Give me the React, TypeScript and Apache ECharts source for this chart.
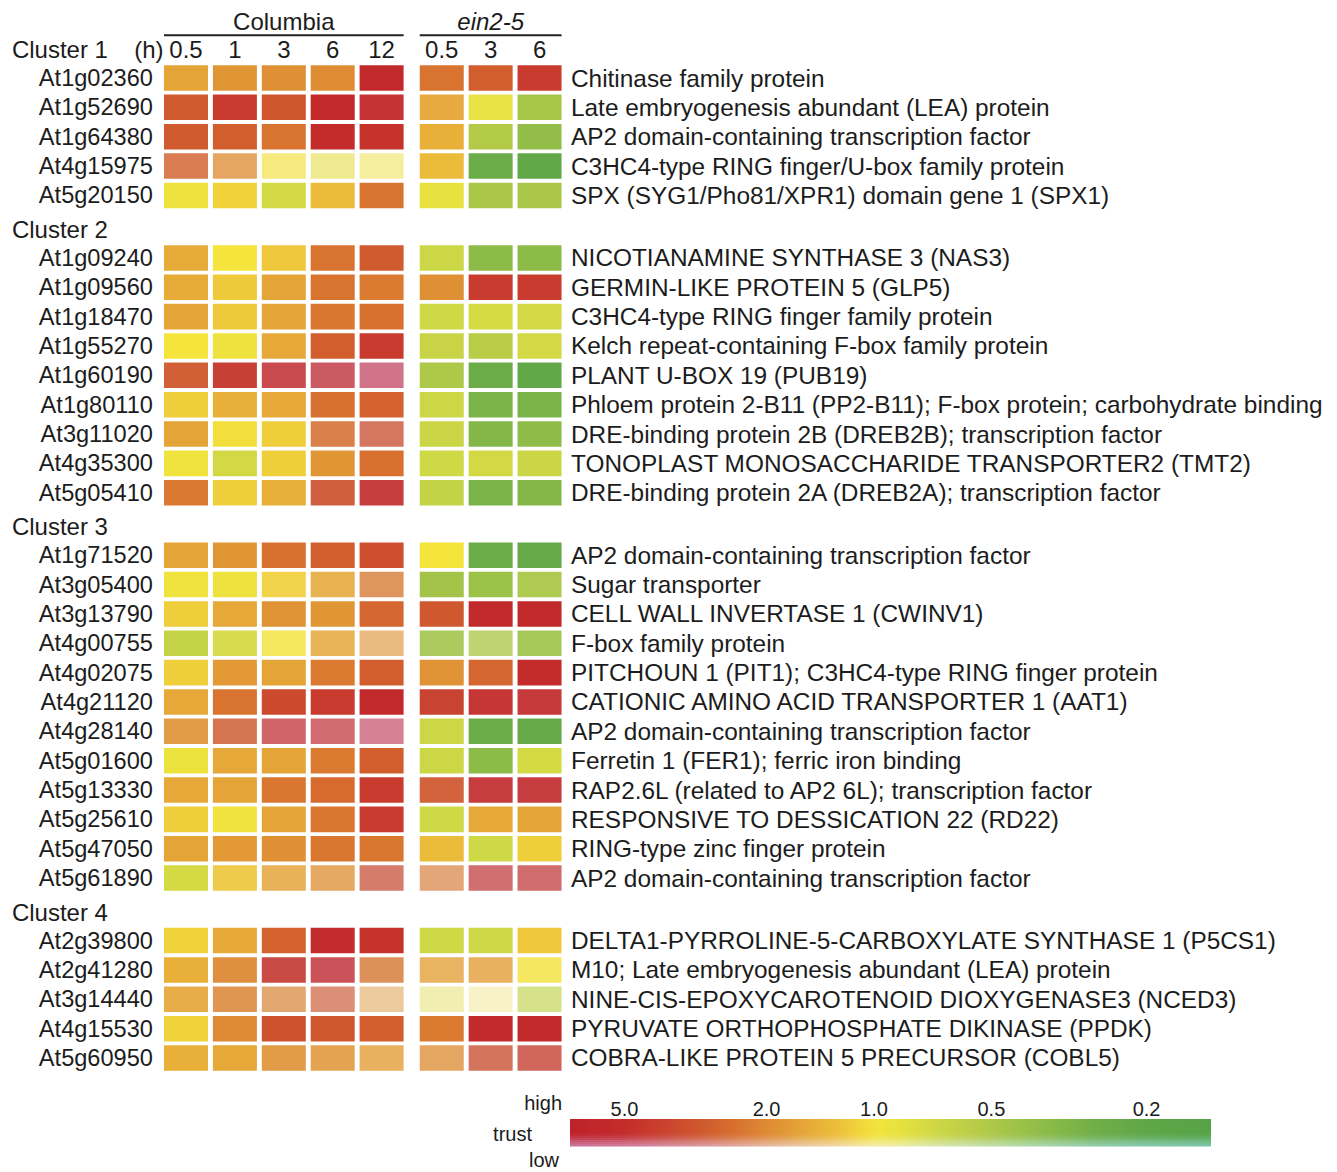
import React, { useEffect, useRef } from "react";
import * as echarts from "echarts";

// ---------------- DATA ----------------
const clusterNames = ["Cluster 1", "Cluster 2", "Cluster 3", "Cluster 4"];
const clusterSizes = [5, 9, 12, 5];

const geneIds = [
  "At1g02360", "At1g52690", "At1g64380", "At4g15975", "At5g20150",
  "At1g09240", "At1g09560", "At1g18470", "At1g55270", "At1g60190", "At1g80110", "At3g11020", "At4g35300", "At5g05410",
  "At1g71520", "At3g05400", "At3g13790", "At4g00755", "At4g02075", "At4g21120", "At4g28140", "At5g01600", "At5g13330", "At5g25610", "At5g47050", "At5g61890",
  "At2g39800", "At2g41280", "At3g14440", "At4g15530", "At5g60950",
];

const descriptions = [
  "Chitinase family protein",
  "Late embryogenesis abundant (LEA) protein",
  "AP2 domain-containing transcription factor",
  "C3HC4-type RING finger/U-box family protein",
  "SPX (SYG1/Pho81/XPR1) domain gene 1 (SPX1)",
  "NICOTIANAMINE SYNTHASE 3 (NAS3)",
  "GERMIN-LIKE PROTEIN 5 (GLP5)",
  "C3HC4-type RING finger family protein",
  "Kelch repeat-containing F-box family protein",
  "PLANT U-BOX 19 (PUB19)",
  "Phloem protein 2-B11 (PP2-B11); F-box protein; carbohydrate binding",
  "DRE-binding protein 2B (DREB2B); transcription factor",
  "TONOPLAST MONOSACCHARIDE TRANSPORTER2 (TMT2)",
  "DRE-binding protein 2A (DREB2A); transcription factor",
  "AP2 domain-containing transcription factor",
  "Sugar transporter",
  "CELL WALL INVERTASE 1 (CWINV1)",
  "F-box family protein",
  "PITCHOUN 1 (PIT1); C3HC4-type RING finger protein",
  "CATIONIC AMINO ACID TRANSPORTER 1 (AAT1)",
  "AP2 domain-containing transcription factor",
  "Ferretin 1 (FER1); ferric iron binding",
  "RAP2.6L (related to AP2 6L); transcription factor",
  "RESPONSIVE TO DESSICATION 22 (RD22)",
  "RING-type zinc finger protein",
  "AP2 domain-containing transcription factor",
  "DELTA1-PYRROLINE-5-CARBOXYLATE SYNTHASE 1 (P5CS1)",
  "M10; Late embryogenesis abundant (LEA) protein",
  "NINE-CIS-EPOXYCAROTENOID DIOXYGENASE3 (NCED3)",
  "PYRUVATE ORTHOPHOSPHATE DIKINASE (PPDK)",
  "COBRA-LIKE PROTEIN 5 PRECURSOR (COBL5)",
];

const groupNames = ["Columbia", "ein2-5"];
const timeUnit = "(h)";
const timeLabelsColumbia = ["0.5", "1", "3", "6", "12"];
const timeLabelsEin = ["0.5", "3", "6"];

// fold change (ratio) per gene, Columbia 0.5/1/3/6/12 h
const columbiaFold = [
  [1.6, 1.8, 1.9, 1.95, 5.5],
  [3.0, 4.2, 3.2, 5.5, 5.0],
  [3.0, 2.9, 2.4, 5.0, 4.6],
  [2.6, 1.8, 1.0, 0.9, 1.0],
  [0.92, 1.12, 0.72, 1.3, 2.4],
  [1.5, 1.0, 1.2, 2.4, 3.0],
  [1.5, 1.18, 1.6, 2.4, 2.25],
  [1.6, 1.18, 1.6, 2.35, 2.45],
  [1.0, 0.92, 1.55, 2.9, 4.2],
  [3.0, 4.3, 4.5, 4.5, 4.5],
  [1.15, 1.45, 1.55, 2.45, 2.8],
  [1.6, 1.03, 1.15, 2.4, 3.0],
  [0.95, 0.72, 1.15, 1.8, 2.45],
  [2.3, 1.15, 1.45, 3.2, 4.8],
  [1.6, 1.8, 2.45, 2.9, 3.4],
  [0.95, 0.93, 1.12, 1.5, 2.1],
  [1.15, 1.55, 1.85, 1.8, 2.7],
  [0.63, 0.74, 1.0, 1.5, 1.6],
  [1.15, 1.75, 1.6, 2.25, 2.9],
  [1.55, 2.4, 3.6, 4.2, 5.5],
  [1.8, 2.8, 4.0, 4.0, 4.0],
  [0.9, 1.55, 1.6, 2.25, 2.9],
  [1.55, 1.6, 2.35, 2.6, 4.2],
  [1.15, 0.95, 1.6, 2.35, 4.2],
  [1.6, 1.75, 1.9, 2.35, 2.35],
  [0.73, 1.2, 1.55, 1.75, 3.0],
  [1.12, 1.55, 2.8, 5.2, 4.6],
  [1.45, 2.0, 4.2, 4.5, 2.2],
  [1.55, 2.0, 1.9, 2.6, 1.5],
  [1.12, 2.0, 3.3, 3.1, 2.9],
  [1.45, 1.55, 1.8, 1.75, 1.6],
];

// trust (1 = high, 0 = low), Columbia
const columbiaTrust = [
  [1, 1, 1, 1, 1],
  [1, 1, 1, 1, 0.95],
  [1, 1, 1, 1, 1],
  [0.8, 0.75, 0.6, 0.5, 0.4],
  [1, 1, 1, 1, 1],
  [1, 1, 1, 1, 1],
  [1, 1, 1, 1, 1],
  [1, 1, 1, 1, 1],
  [1, 1, 1, 1, 1],
  [0.95, 0.95, 0.82, 0.7, 0.48],
  [1, 1, 1, 1, 1],
  [1, 1, 1, 0.85, 0.72],
  [1, 1, 1, 1, 1],
  [1, 1, 1, 0.9, 0.9],
  [1, 1, 1, 1, 1],
  [1, 1, 0.9, 0.86, 0.75],
  [1, 1, 1, 1, 1],
  [1, 0.93, 0.8, 0.82, 0.57],
  [1, 1, 1, 1, 1],
  [1, 1, 1, 1, 1],
  [0.9, 0.8, 0.67, 0.62, 0.43],
  [1, 1, 1, 1, 1],
  [1, 1, 1, 1, 1],
  [1, 1, 1, 1, 1],
  [1, 1, 1, 1, 1],
  [1, 0.9, 0.81, 0.75, 0.66],
  [1, 1, 1, 1, 1],
  [1, 0.93, 0.87, 0.76, 0.77],
  [0.9, 0.84, 0.65, 0.59, 0.4],
  [1, 1, 1, 1, 1],
  [1, 1, 0.9, 0.85, 0.76],
];

// fold change, ein2-5 0.5/3/6 h
const einFold = [
  [2.4, 2.9, 4.2],
  [1.55, 0.87, 0.47],
  [1.45, 0.52, 0.38],
  [1.3, 0.25, 0.21],
  [0.88, 0.48, 0.48],
  [0.68, 0.36, 0.36],
  [1.9, 4.2, 4.2],
  [0.7, 0.75, 0.72],
  [0.65, 0.55, 0.72],
  [0.5, 0.25, 0.21],
  [0.68, 0.3, 0.3],
  [0.67, 0.33, 0.37],
  [0.7, 0.72, 0.67],
  [0.62, 0.3, 0.33],
  [1.0, 0.25, 0.22],
  [0.45, 0.42, 0.5],
  [3.1, 5.5, 5.5],
  [0.47, 0.55, 0.45],
  [1.85, 2.7, 5.0],
  [4.0, 4.8, 4.8],
  [0.68, 0.25, 0.22],
  [0.68, 0.36, 0.73],
  [3.0, 4.8, 4.8],
  [0.7, 1.55, 1.6],
  [1.3, 0.7, 1.15],
  [2.0, 3.8, 3.8],
  [0.7, 0.7, 1.2],
  [1.55, 1.6, 1.0],
  [0.9, 1.0, 0.7],
  [2.25, 5.5, 5.5],
  [1.8, 3.0, 3.5],
];

const einTrust = [
  [1, 1, 1],
  [0.95, 0.95, 1],
  [1, 1, 1],
  [1, 1, 1],
  [1, 1, 1],
  [1, 1, 1],
  [1, 1, 1],
  [1, 1, 1],
  [1, 1, 1],
  [1, 1, 1],
  [1, 1, 1],
  [1, 1, 1],
  [1, 1, 1],
  [1, 1, 1],
  [1, 1, 1],
  [1, 1, 0.95],
  [1, 1, 1],
  [0.85, 0.74, 0.9],
  [1, 1, 1],
  [0.97, 0.95, 0.92],
  [1, 1, 1],
  [1, 1, 1],
  [0.92, 0.9, 0.9],
  [1, 1, 1],
  [1, 1, 1],
  [0.6, 0.63, 0.65],
  [1, 1, 1],
  [0.76, 0.76, 0.78],
  [0.3, 0.16, 0.57],
  [1, 1, 1],
  [0.75, 0.74, 0.75],
];

const legendTicks = [5.0, 2.0, 1.0, 0.5, 0.2];
const legendTickLabels = ["5.0", "2.0", "1.0", "0.5", "0.2"];
const trustLabels = ["high", "trust", "low"];

// ---------------- STYLE / LAYOUT ----------------
const FONT_FAMILY = '"Liberation Sans", Arial, Helvetica, sans-serif';
const TEXT_COLOR = "#1c1c1c";

const X_UNIT = 48.9;
const X_MIN = -0.5;
const X_MAX = 7.73;
const EIN_OFFSET = 5.23;
const GRID_LEFT = 186 + X_MIN * X_UNIT;
const GRID_W = (X_MAX - X_MIN) * X_UNIT;

const Y_UNIT = 29.35;
const Y_MIN = -1.5;
const Y_MAX = 34;
const GRID_TOP = 78 + Y_MIN * Y_UNIT;
const GRID_H = (Y_MAX - Y_MIN) * Y_UNIT;
const CLUSTER_GAP = 2.13;

// color scale: log10(fold) -> rgb
const COLOR_STOPS: [number, number[]][] = [
  [0.85, [190, 34, 42]],
  [0.7, [196, 44, 44]],
  [0.6, [201, 64, 46]],
  [0.48, [208, 90, 46]],
  [0.4, [215, 110, 47]],
  [0.3, [222, 138, 52]],
  [0.2, [229, 165, 56]],
  [0.1, [236, 192, 58]],
  [0.04, [241, 213, 59]],
  [0.0, [244, 228, 60]],
  [-0.08, [228, 224, 64]],
  [-0.155, [207, 216, 69]],
  [-0.26, [184, 204, 72]],
  [-0.35, [162, 196, 72]],
  [-0.46, [136, 185, 72]],
  [-0.57, [112, 174, 72]],
  [-0.7, [95, 167, 72]],
  [-0.86, [86, 163, 70]],
];
const FADE_W = [0.35, 0.6, 0.85];

function colorFor(fc: number, trust: number): string {
  const l = Math.log10(fc);
  let rgb: number[];
  if (l >= COLOR_STOPS[0][0]) rgb = COLOR_STOPS[0][1];
  else if (l <= COLOR_STOPS[COLOR_STOPS.length - 1][0]) rgb = COLOR_STOPS[COLOR_STOPS.length - 1][1];
  else {
    rgb = COLOR_STOPS[0][1];
    for (let i = 0; i < COLOR_STOPS.length - 1; i++) {
      const [l0, c0] = COLOR_STOPS[i];
      const [l1, c1] = COLOR_STOPS[i + 1];
      if (l <= l0 && l >= l1) {
        const t = (l0 - l) / (l0 - l1);
        rgb = c0.map((v, k) => v + (c1[k] - v) * t);
        break;
      }
    }
  }
  const a = 1 - trust;
  const out = rgb.map((c, i) => Math.round(c + (255 - c) * Math.min(1, a * FADE_W[i])));
  return `rgb(${out[0]},${out[1]},${out[2]})`;
}

// legend geometry
const LEG_X0 = 570;
const LEG_X1 = 1211;
const LEG_Y0 = 1119;
const LEG_H = 27;
const LEG_ONE = 874;
function legendX(v: number) {
  const l = Math.log10(v);
  return l >= 0 ? LEG_ONE - l * 357 : LEG_ONE - l * 390;
}
function legendFoldAt(x: number) {
  const l = x <= LEG_ONE ? (LEG_ONE - x) / 357 : -(x - LEG_ONE) / 390;
  return Math.pow(10, l);
}

function font(size: number, style = "") {
  return `${style ? style + " " : ""}${size}px ${FONT_FAMILY}`;
}

function textEl(x: number, y: number, text: string, align: string, size = 24, style = "") {
  return {
    type: "text",
    x,
    y,
    style: {
      text,
      font: font(size, style),
      fill: TEXT_COLOR,
      align,
      verticalAlign: "middle",
      textAlign: align,
      textVerticalAlign: "middle",
    },
  };
}

export default function App() {
  const ref = useRef<HTMLDivElement>(null);

  useEffect(() => {
    if (!ref.current) return;
    const chart = echarts.init(ref.current, undefined, { renderer: "svg" });

    // row positions
    const rowY: number[] = [];
    const clusterLabelY: number[] = [];
    let start = 0;
    clusterSizes.forEach((n) => {
      clusterLabelY.push(start - 0.97);
      for (let i = 0; i < n; i++) rowY.push(start + i);
      start += n - 1 + CLUSTER_GAP;
    });

    const cellData: number[][] = [];
    geneIds.forEach((_, g) => {
      columbiaFold[g].forEach((fc, j) => cellData.push([j, rowY[g], fc, columbiaTrust[g][j]]));
      einFold[g].forEach((fc, j) => cellData.push([EIN_OFFSET + j, rowY[g], fc, einTrust[g][j]]));
    });

    const colX = [
      ...timeLabelsColumbia.map((_, i) => i),
      ...timeLabelsEin.map((_, i) => EIN_OFFSET + i),
    ];
    const colLabels = [...timeLabelsColumbia, ...timeLabelsEin];
    const groupSpans = [
      [0, timeLabelsColumbia.length - 1],
      [EIN_OFFSET, EIN_OFFSET + timeLabelsEin.length - 1],
    ];

    // legend rows: trust high at top, fading to low near the bottom edge
    const LEG_ROWS = 14;
    const legendRects: any[] = [];
    for (let r = 0; r < LEG_ROWS; r++) {
      const f = r / (LEG_ROWS - 1);
      const trust = f < 0.5 ? 1 : 1 - Math.pow((f - 0.5) / 0.5, 1.4) * 0.6;
      const stops: any[] = [];
      const N = 48;
      for (let s = 0; s <= N; s++) {
        const x = LEG_X0 + ((LEG_X1 - LEG_X0) * s) / N;
        stops.push({ offset: s / N, color: colorFor(legendFoldAt(x), trust) });
      }
      legendRects.push({
        type: "rect",
        shape: { x: LEG_X0, y: LEG_Y0 + (r * LEG_H) / LEG_ROWS, width: LEG_X1 - LEG_X0, height: LEG_H / LEG_ROWS + 0.6 },
        style: { fill: { type: "linear", x: 0, y: 0, x2: 1, y2: 0, colorStops: stops } },
        silent: true,
      });
    }

    const legendTexts: any[] = [
      textEl(562, 1103, trustLabels[0], "right", 20),
      textEl(532, 1134, trustLabels[1], "right", 20),
      textEl(559, 1160, trustLabels[2], "right", 20),
      ...legendTicks.map((v, i) => textEl(legendX(v), 1109, legendTickLabels[i], "center", 20)),
    ];

    const option: any = {
      animation: false,
      backgroundColor: "#ffffff",
      grid: { left: GRID_LEFT, top: GRID_TOP, width: GRID_W, height: GRID_H, containLabel: false },
      xAxis: { type: "value", min: X_MIN, max: X_MAX, show: false },
      yAxis: { type: "value", min: Y_MIN, max: Y_MAX, inverse: true, show: false },
      series: [
        {
          type: "custom",
          name: "cells",
          silent: true,
          clip: false,
          data: cellData,
          renderItem: (params: any, api: any) => {
            const c = api.coord([api.value(0), api.value(1)]);
            const s = api.size([0.9, 0.87]);
            return {
              type: "rect",
              shape: { x: c[0] - s[0] / 2, y: c[1] - s[1] / 2, width: s[0], height: s[1] },
              style: { fill: colorFor(api.value(2), api.value(3)) },
            };
          },
        },
        {
          type: "custom",
          name: "rowLabels",
          silent: true,
          clip: false,
          data: rowY.map((y) => [-0.675, y]),
          renderItem: (params: any, api: any) => {
            const y = api.value(1);
            const l = api.coord([-0.675, y]);
            const r = api.coord([7.873, y]);
            return {
              type: "group",
              children: [
                textEl(l[0], l[1], geneIds[params.dataIndex], "right", 23.6),
                textEl(r[0], r[1], descriptions[params.dataIndex], "left", 24.4),
              ],
            };
          },
        },
        {
          type: "custom",
          name: "clusterLabels",
          silent: true,
          clip: false,
          data: clusterLabelY.map((y) => [-3.56, y]),
          renderItem: (params: any, api: any) => {
            const p = api.coord([api.value(0), api.value(1)]);
            return textEl(p[0], p[1], clusterNames[params.dataIndex], "left");
          },
        },
        {
          type: "custom",
          name: "timeLabels",
          silent: true,
          clip: false,
          data: colX.map((x) => [x, -0.97]),
          renderItem: (params: any, api: any) => {
            const p = api.coord([api.value(0), api.value(1)]);
            return textEl(p[0], p[1], colLabels[params.dataIndex], "center");
          },
        },
        {
          type: "custom",
          name: "timeUnit",
          silent: true,
          clip: false,
          data: [[-0.46, -0.97]],
          renderItem: (params: any, api: any) => {
            const p = api.coord([api.value(0), api.value(1)]);
            return textEl(p[0], p[1], timeUnit, "right");
          },
        },
        {
          type: "custom",
          name: "groups",
          silent: true,
          clip: false,
          data: groupSpans,
          renderItem: (params: any, api: any) => {
            const a = api.coord([api.value(0) - 0.45, -1.46]);
            const b = api.coord([api.value(1) + 0.45, -1.46]);
            const t = api.coord([(api.value(0) + api.value(1)) / 2, -1.93]);
            return {
              type: "group",
              children: [
                {
                  type: "line",
                  shape: { x1: a[0], y1: a[1], x2: b[0], y2: b[1] },
                  style: { stroke: "#222", lineWidth: 2 },
                },
                textEl(t[0], t[1], groupNames[params.dataIndex], "center", 24, params.dataIndex === 1 ? "italic" : ""),
              ],
            };
          },
        },
      ],
      graphic: [...legendRects, ...legendTexts],
    };

    chart.setOption(option);
    return () => chart.dispose();
  }, []);

  return (
    <div
      ref={ref}
      style={{ position: "absolute", left: 0, top: 0, width: 1337, height: 1172, background: "#fff" }}
    />
  );
}
